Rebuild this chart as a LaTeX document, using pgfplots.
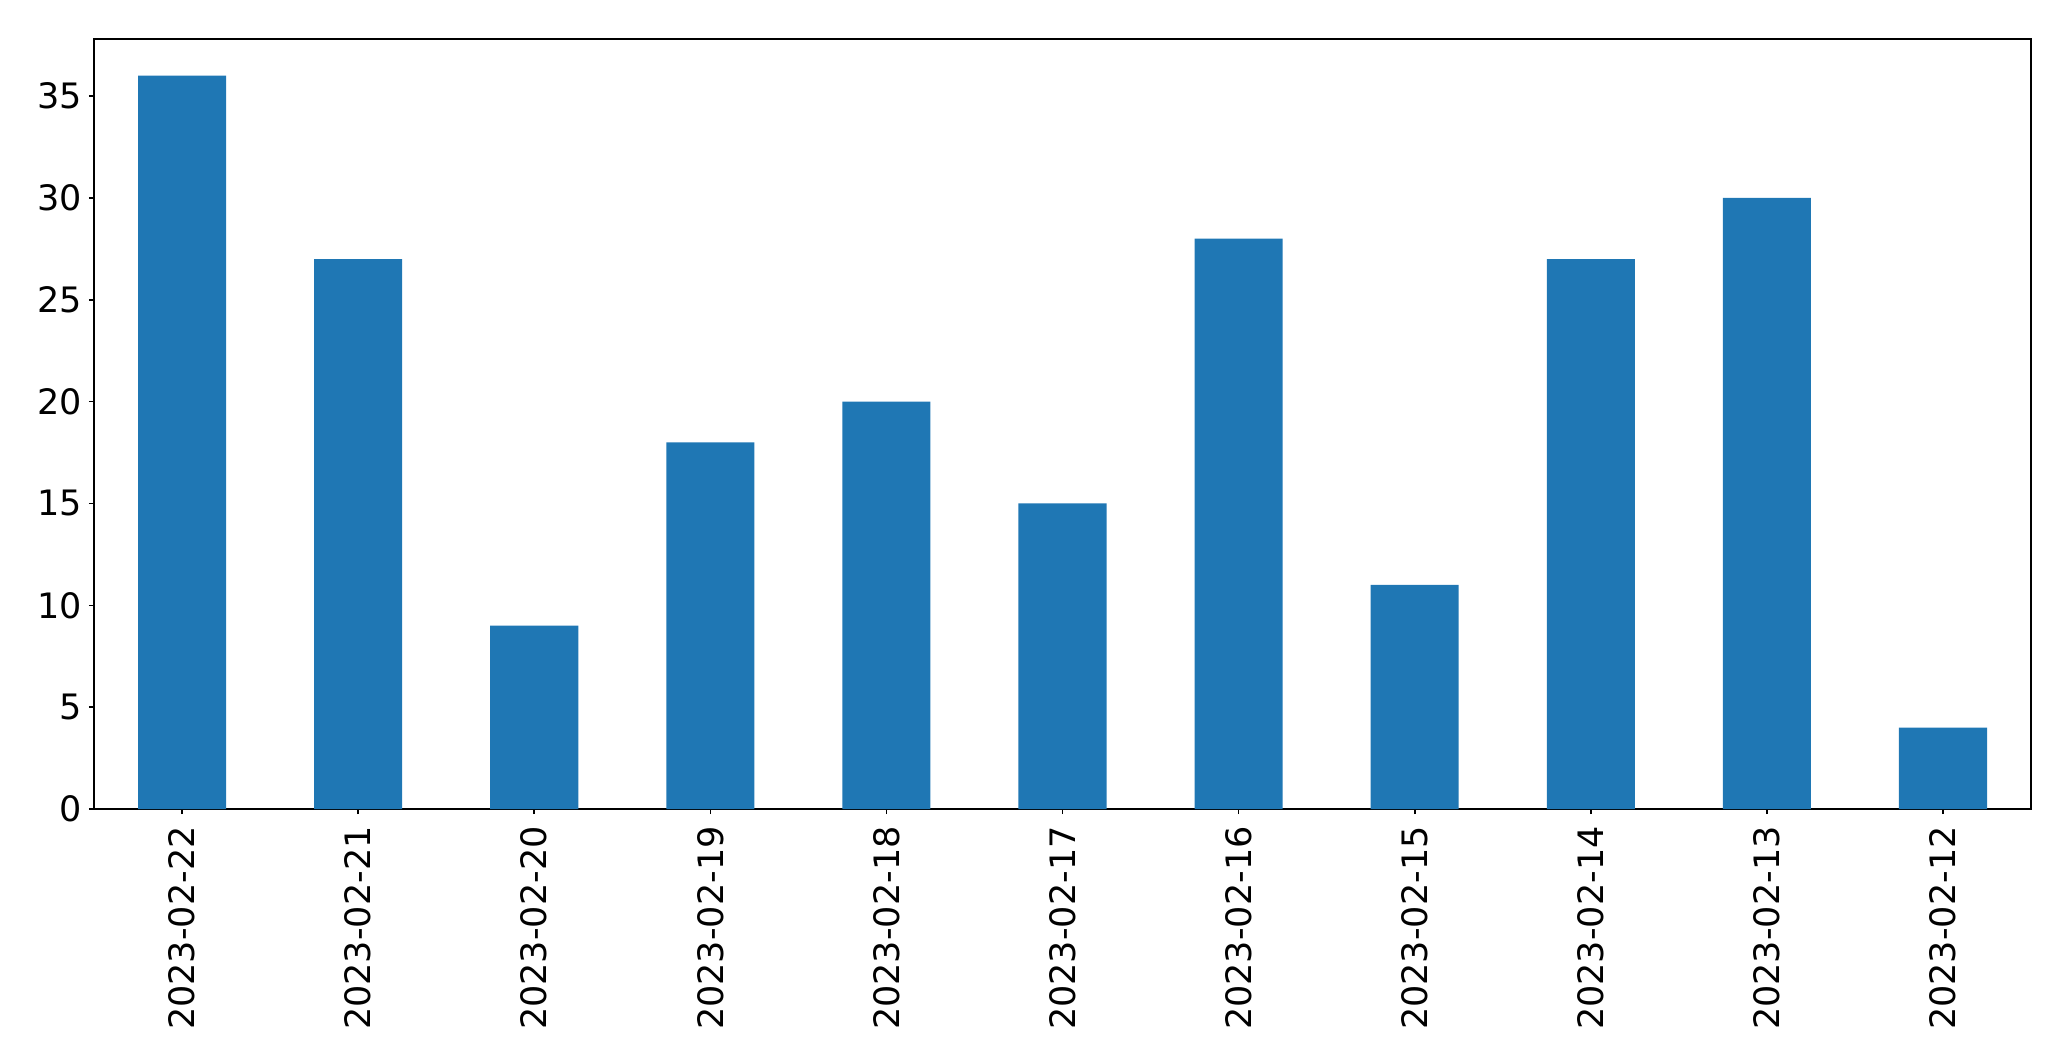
\documentclass[border=0pt]{standalone}
\usepackage{fontspec}
\setmainfont{DejaVu Sans}
\usepackage{pgfplots}
\pgfplotsset{compat=1.18}
\definecolor{barblue}{HTML}{1F77B4}
\begin{document}
\begin{tikzpicture}
\begin{axis}[
  scale only axis,
  width=968.5pt, height=385pt,
  xmin=-0.5, xmax=10.5,
  ymin=0, ymax=37.8,
  ybar, bar width=0.5,
  xtick=data,
  xticklabels={2023-02-22,2023-02-21,2023-02-20,2023-02-19,2023-02-18,2023-02-17,2023-02-16,2023-02-15,2023-02-14,2023-02-13,2023-02-12},
  ytick={0,5,...,35},
  tick align=outside,
  major tick length=2.5pt,
  tick style={black, line width=0.8pt},
  axis line style={line width=0.8pt},
  xtick pos=bottom, ytick pos=left,
  every tick label/.append style={font=\fontsize{17.5}{20}\selectfont},
  /pgf/number format/assume math mode=true,
  xticklabel style={rotate=90, anchor=east, inner sep=0pt, xshift=-6pt},
  yticklabel style={inner sep=0pt, xshift=-3.5pt},
  clip=false,
]
\addplot[fill=barblue, draw=none] coordinates {
  (0,36) (1,27) (2,9) (3,18) (4,20) (5,15) (6,28) (7,11) (8,27) (9,30) (10,4)
};
\path (rel axis cs:-0.04853,-0.32727) rectangle (rel axis cs:1.02065,1.05065);
\end{axis}
\end{tikzpicture}
\end{document}
